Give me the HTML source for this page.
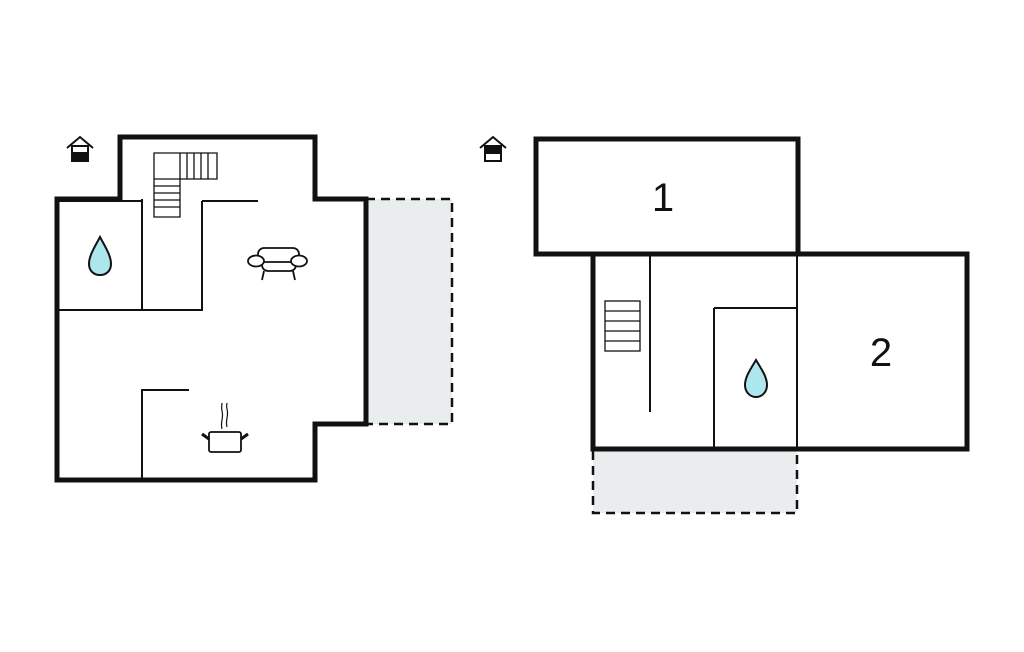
<!DOCTYPE html>
<html><head><meta charset="utf-8"><style>html,body{margin:0;padding:0;background:#fff}svg{display:block}</style></head><body>
<svg width="1024" height="652" viewBox="0 0 1024 652" xmlns="http://www.w3.org/2000/svg">
<rect width="1024" height="652" fill="#fff"/>
<!-- LEFT PLAN -->
<rect x="366" y="199" width="86" height="225" fill="#e9eded" stroke="#111" stroke-width="2.5" stroke-dasharray="9,6"/>
<g fill="none" stroke="#111" stroke-width="2">
<line x1="57" y1="201" x2="142" y2="201"/>
<line x1="142" y1="199" x2="142" y2="310"/>
<line x1="57" y1="310" x2="203" y2="310"/>
<line x1="202" y1="201" x2="202" y2="311"/>
<line x1="202" y1="201" x2="258" y2="201"/>
<line x1="142" y1="390" x2="142" y2="480"/>
<line x1="141" y1="390" x2="189" y2="390"/>
</g>
<polygon points="120,137 315,137 315,199 366,199 366,424 315,424 315,480 57,480 57,199 120,199" fill="none" stroke="#111" stroke-width="5"/>
<!-- stairs left -->
<g fill="none" stroke="#111" stroke-width="1.3">
<polygon points="154,153 217,153 217,179 180,179 180,217 154,217"/>
<line x1="180" y1="153" x2="180" y2="179"/>
<line x1="187" y1="153" x2="187" y2="179"/>
<line x1="194" y1="153" x2="194" y2="179"/>
<line x1="201" y1="153" x2="201" y2="179"/>
<line x1="208" y1="153" x2="208" y2="179"/>
<line x1="154" y1="179" x2="180" y2="179"/>
<line x1="154" y1="186" x2="180" y2="186"/>
<line x1="154" y1="193" x2="180" y2="193"/>
<line x1="154" y1="200" x2="180" y2="200"/>
<line x1="154" y1="207" x2="180" y2="207"/>
</g>
<!-- drop left -->
<path d="M100,237 C94,248 89,256 89,264 C89,271 94,275 100,275 C106,275 111,271 111,264 C111,256 106,248 100,237 Z" fill="#aee6ee" stroke="#111" stroke-width="2"/>
<!-- sofa -->
<g fill="#fff" stroke="#111" stroke-width="1.8">
<rect x="262" y="256" width="34" height="15" rx="6"/>
<rect x="258" y="248" width="41" height="14" rx="6"/>
<ellipse cx="256" cy="261" rx="8" ry="5.5"/>
<ellipse cx="299" cy="261" rx="8" ry="5.5"/>
<line x1="264" y1="271" x2="262" y2="280"/>
<line x1="293" y1="271" x2="295" y2="280"/>
</g>
<!-- pot -->
<g fill="none" stroke="#111" stroke-width="1.8">
<rect x="209" y="432" width="32" height="20" rx="2" fill="#fff"/>
<line x1="209" y1="439" x2="202" y2="434" stroke-width="3"/>
<line x1="241" y1="439" x2="248" y2="434" stroke-width="3"/>
<path d="M222,429 C220,422 224,418 222,411 C221,407 222,405 222,403" stroke-width="1.2"/>
<path d="M227,427 C225,420 229,416 227,409 C226,406 227,404 227,403" stroke-width="1.2"/>
</g>
<!-- house icon left -->
<g stroke="#111" stroke-width="2" fill="none">
<polyline points="67,148 80,137 93,148"/>
<rect x="72" y="146" width="16" height="15" fill="#fff"/>
<rect x="72" y="153" width="16" height="8" fill="#111"/>
</g>
<!-- RIGHT PLAN -->
<rect x="593" y="449" width="204" height="64" fill="#e9eded" stroke="#111" stroke-width="2.5" stroke-dasharray="9,6"/>
<g fill="none" stroke="#111" stroke-width="2">
<line x1="593" y1="254" x2="797" y2="254"/>
<line x1="797" y1="254" x2="797" y2="449"/>
<line x1="650" y1="254" x2="650" y2="412"/>
<line x1="714" y1="308" x2="714" y2="449"/>
<line x1="714" y1="308" x2="797" y2="308"/>
</g>
<g fill="none" stroke="#111" stroke-width="5">
<rect x="536" y="139" width="262" height="115"/>
<polyline points="593,254 593,449 967,449 967,254 797,254"/>
</g>
<g fill="none" stroke="#111" stroke-width="1.3">
<rect x="605" y="301" width="35" height="50"/>
<line x1="605" y1="311" x2="640" y2="311"/>
<line x1="605" y1="321" x2="640" y2="321"/>
<line x1="605" y1="331" x2="640" y2="331"/>
<line x1="605" y1="341" x2="640" y2="341"/>
</g>
<path d="M756,360 C750,370 745,377 745,385 C745,392 750,397 756,397 C762,397 767,392 767,385 C767,377 762,370 756,360 Z" fill="#aee6ee" stroke="#111" stroke-width="2"/>
<text x="663" y="211" font-family="Liberation Sans, sans-serif" font-size="40" text-anchor="middle" fill="#111">1</text>
<text x="881" y="366" font-family="Liberation Sans, sans-serif" font-size="40" text-anchor="middle" fill="#111">2</text>
<g stroke="#111" stroke-width="2" fill="none">
<polyline points="480,148 493,137 506,148"/>
<rect x="485" y="146" width="16" height="15" fill="#fff"/>
<rect x="485" y="146" width="16" height="7" fill="#111"/>
</g>
</svg>
</body></html>
